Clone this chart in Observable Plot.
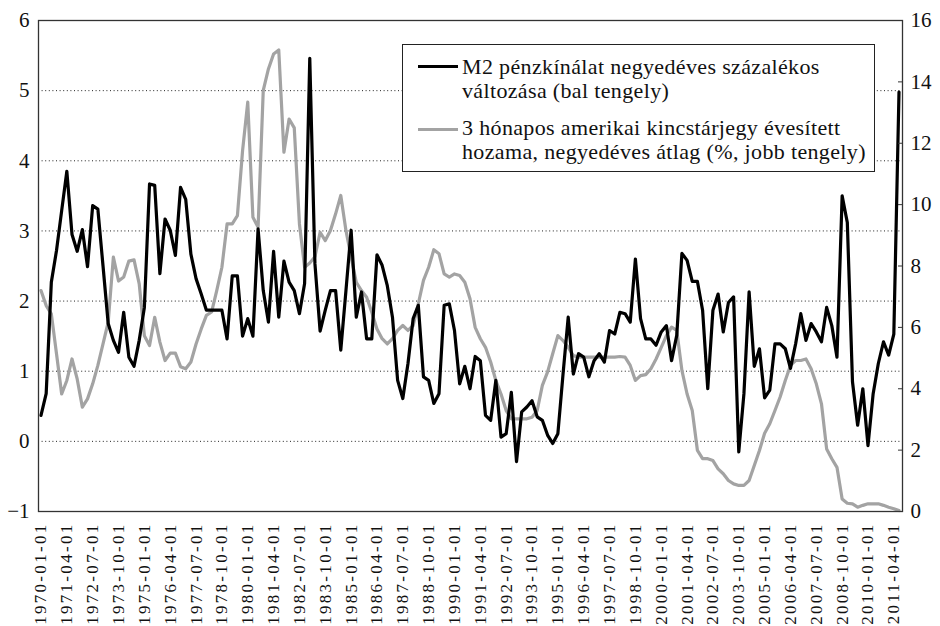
<!DOCTYPE html>
<html>
<head>
<meta charset="utf-8">
<script src="https://cdn.jsdelivr.net/npm/d3@7"></script>
<script src="https://cdn.jsdelivr.net/npm/@observablehq/plot@0.6"></script>
<style>
  html, body { margin: 0; padding: 0; background: #fff; }
  #wrap { position: relative; width: 940px; height: 626px; overflow: hidden; }
  #wrap svg text { font-family: "Liberation Serif", "Times New Roman", serif !important; fill: #111; }
  #wrap svg g[aria-label="x-axis tick label"] text { letter-spacing: 2.3px; }
  #legend {
    position: absolute; left: 402px; top: 44px; width: 471px; height: 126px;
    border: 1.5px solid #222; background: #fff;
    font-family: "Liberation Serif", "Times New Roman", serif; font-size: 22px;
    letter-spacing: 0.35px; color: #111;
  }
  #legend .sw { position: absolute; left: 15px; width: 40px; height: 3px; }
  #legend .tx { position: absolute; left: 59px; line-height: 23.5px; white-space: nowrap; }
</style>
</head>
<body>
<div id="wrap"></div>
<script>
// M2 money supply, quarterly % change (left axis), 1970Q1 .. 2011Q3
const m2Change = [
  0.37, 0.68, 2.27, 2.72, 3.29, 3.85, 2.95, 2.71, 3.02, 2.49,
  3.36, 3.31, 2.50, 1.68, 1.44, 1.27, 1.84, 1.20, 1.07, 1.44,
  1.91, 3.67, 3.65, 2.39, 3.17, 3.01, 2.65, 3.62, 3.45, 2.67,
  2.32, 2.10, 1.87, 1.87, 1.87, 1.87, 1.46, 2.36, 2.36, 1.50,
  1.75, 1.50, 3.03, 2.15, 1.70, 2.71, 1.77, 2.57, 2.27, 2.15,
  1.82, 2.25, 5.46, 2.53, 1.57, 1.87, 2.15, 2.15, 1.30, 2.15,
  3.01, 1.77, 2.13, 1.46, 1.46, 2.66, 2.51, 2.22, 1.77, 0.87,
  0.61, 1.11, 1.75, 1.94, 0.92, 0.87, 0.54, 0.68, 1.94, 1.96,
  1.58, 0.82, 1.07, 0.75, 1.21, 1.15, 0.37, 0.30, 0.87, 0.06,
  0.11, 0.70, -0.29, 0.42, 0.49, 0.58, 0.35, 0.30, 0.09, -0.03,
  0.11, 0.96, 1.77, 0.96, 1.25, 1.20, 0.92, 1.15, 1.25, 1.13,
  1.58, 1.53, 1.84, 1.82, 1.70, 2.60, 1.75, 1.46, 1.46, 1.37,
  1.56, 1.65, 1.15, 1.51, 2.68, 2.58, 2.28, 2.28, 1.87, 0.75,
  1.87, 2.10, 1.56, 1.98, 2.06, -0.15, 0.68, 2.13, 1.07, 1.32,
  0.62, 0.73, 1.39, 1.39, 1.32, 1.04, 1.39, 1.82, 1.44, 1.68,
  1.56, 1.42, 1.91, 1.65, 1.20, 3.50, 3.12, 0.85, 0.23, 0.75,
  -0.06, 0.68, 1.11, 1.42, 1.23, 1.53, 4.98
];
// 3-month US T-bill annualised yield, quarterly average, % (right axis)
const tbillYield = [
  7.20, 6.71, 6.44, 5.14, 3.83, 4.27, 4.97, 4.32, 3.40, 3.67,
  4.16, 4.76, 5.46, 6.17, 8.29, 7.51, 7.64, 8.16, 8.20, 7.42,
  5.73, 5.41, 6.33, 5.52, 4.92, 5.16, 5.16, 4.72, 4.65, 4.87,
  5.46, 5.95, 6.39, 6.50, 7.20, 7.96, 9.37, 9.37, 9.64, 11.76,
  13.34, 9.59, 9.26, 13.72, 14.42, 14.91, 15.04, 11.71, 12.79, 12.50,
  9.37, 7.96, 8.10, 8.30, 9.10, 8.83, 9.16, 9.70, 10.30, 9.16,
  8.29, 7.47, 7.20, 6.98, 6.49, 5.95, 5.63, 5.46, 5.63, 5.90,
  6.06, 5.90, 6.06, 6.77, 7.53, 7.96, 8.53, 8.40, 7.74, 7.64,
  7.74, 7.69, 7.47, 6.93, 6.00, 5.63, 5.35, 4.87, 4.27, 3.83,
  3.29, 3.02, 3.02, 3.02, 3.02, 3.07, 3.29, 4.11, 4.54, 5.14,
  5.73, 5.57, 5.35, 5.08, 5.03, 5.03, 5.03, 5.03, 5.03, 5.03,
  5.03, 5.03, 5.05, 5.03, 4.76, 4.27, 4.43, 4.46, 4.65, 4.97,
  5.35, 5.73, 6.01, 5.90, 4.60, 3.83, 3.29, 1.99, 1.72, 1.72,
  1.66, 1.39, 1.23, 1.01, 0.90, 0.85, 0.85, 1.01, 1.50, 1.99,
  2.55, 2.86, 3.29, 3.73, 4.27, 4.76, 4.92, 4.92, 4.97, 4.65,
  4.16, 3.51, 2.04, 1.72, 1.44, 0.41, 0.27, 0.25, 0.14, 0.20,
  0.25, 0.25, 0.25, 0.20, 0.14, 0.09, 0.03
];
// x tick labels, one every 5 quarters
const xTickLabels = [
  "1970-01-01","1971-04-01","1972-07-01","1973-10-01","1975-01-01","1976-04-01",
  "1977-07-01","1978-10-01","1980-01-01","1981-04-01","1982-07-01","1983-10-01",
  "1985-01-01","1986-04-01","1987-07-01","1988-10-01","1990-01-01","1991-04-01",
  "1992-07-01","1993-10-01","1995-01-01","1996-04-01","1997-07-01","1998-10-01",
  "2000-01-01","2001-04-01","2002-07-01","2003-10-01","2005-01-01","2006-04-01",
  "2007-07-01","2008-10-01","2010-01-01","2011-04-01"
];
const tickStep = 5;
const leftTicks = [-1, 0, 1, 2, 3, 4, 5, 6];
const leftGrid = [0, 1, 2, 3, 4, 5];
const rightTicks = [0, 2, 4, 6, 8, 10, 12, 14, 16];
const legendLabels = [
  "M2 pénzkínálat negyedéves százalékos<br>változása (bal tengely)",
  "3 hónapos amerikai kincstárjegy évesített<br>hozama, negyedéves átlag (%, jobb tengely)"
];

const L = [-1, 6], R = [0, 16];
const toLeft = r => L[0] + (r - R[0]) * (L[1] - L[0]) / (R[1] - R[0]);
const toRight = l => R[0] + (l - L[0]) * (R[1] - R[0]) / (L[1] - L[0]);
const fmtInt = v => { const r = Math.round(v); return r < 0 ? "\u2212" + (-r) : String(r); };

const rows = m2Change.map((v, i) => ({i, m2: v, tb: tbillYield[i]}));
const n = rows.length;
const xTicks = xTickLabels.map((_, k) => k * tickStep);
const serif = "'Liberation Serif', 'Times New Roman', serif";

const chart = Plot.plot({
  width: 940, height: 626,
  marginLeft: 38, marginRight: 38, marginTop: 20, marginBottom: 115,
  style: {fontFamily: serif, color: "#111", background: "#fff"},
  x: {domain: [0, n - 1], insetLeft: 2.5, insetRight: 3.5, label: null},
  y: {domain: L, label: null},
  marks: [
    Plot.ruleY(leftGrid, {stroke: "#222", strokeDasharray: "1,2.6", strokeWidth: 1}),
    Plot.line(rows, {x: "i", y: d => toLeft(d.tb), stroke: "#a3a3a3", strokeWidth: 3.2}),
    Plot.line(rows, {x: "i", y: "m2", stroke: "#000", strokeWidth: 3.2}),
    Plot.frame({stroke: "#333", strokeWidth: 1.3}),
    Plot.axisY(leftTicks, {anchor: "left", label: null, tickSize: 0, tickPadding: 9, fontSize: 21, fontFamily: serif,
      tickFormat: fmtInt}),
    Plot.axisY(rightTicks.map(toLeft), {anchor: "right", label: null, tickSize: 5, dx: -5, tickPadding: 8, stroke: "#333",
      tickFormat: d => fmtInt(toRight(d)), fontSize: 21, fontFamily: serif}),
    Plot.axisX(xTicks, {anchor: "bottom", label: null, tickSize: 0, tickPadding: 11, tickRotate: -90,
      tickFormat: i => xTickLabels[i / tickStep], fontSize: 17, fontFamily: serif})
  ]
});

const wrap = document.getElementById("wrap");
wrap.appendChild(chart);

const legend = document.createElement("div");
legend.id = "legend";
const colors = ["#000", "#a3a3a3"];
const swTop = [20, 83];
const txTop = [10, 71];
legendLabels.forEach((lab, k) => {
  const sw = document.createElement("div");
  sw.className = "sw"; sw.style.top = swTop[k] + "px"; sw.style.background = colors[k];
  const tx = document.createElement("div");
  tx.className = "tx"; tx.style.top = txTop[k] + "px"; tx.innerHTML = lab;
  legend.appendChild(sw); legend.appendChild(tx);
});
wrap.appendChild(legend);
</script>
</body>
</html>
